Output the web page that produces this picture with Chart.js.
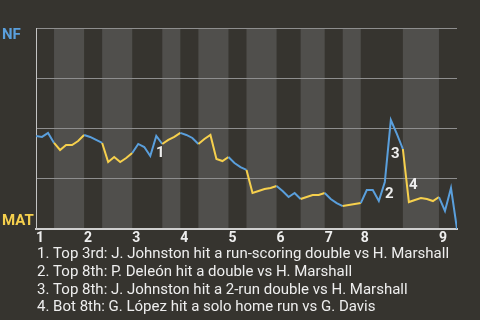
<!DOCTYPE html>
<html>
<head>
<meta charset="utf-8">
<script src="https://cdn.jsdelivr.net/npm/chart.js@4.4.1/dist/chart.umd.min.js"></script>
<style>
  html, body { margin: 0; padding: 0; background: #36342f; }
  #wrap { width: 480px; height: 320px; }
</style>
</head>
<body>
<div id="wrap"><canvas id="chart" width="480" height="320"></canvas></div>
<script>
// Teams
const awayTeam = 'NF';
const homeTeam = 'MAT';

// Innings: label and the event index where each inning starts
const inningLabels = ['1', '2', '3', '4', '5', '6', '7', '8', '9'];
const inningStarts = [0, 8, 16, 24, 32, 40, 48, 54, 67];

// Event index boundaries of each half inning (top 1st, bot 1st, top 2nd, ...)
const halfInningBounds = [0, 3, 8, 11, 16, 21, 24, 27, 32, 35, 40, 44, 48, 51, 54, 61, 67, 70];

// NF win probability (%) after each event
const winProbNF = [
  46.3, 45.8, 47.8, 42.8, 39.3, 41.8, 41.8, 43.8, 46.8, 45.8,
  44.3, 42.8, 33.3, 35.8, 33.3, 35.3, 37.8, 42.3, 40.8, 36.3,
  46.3, 42.3, 44.3, 45.8, 47.8, 46.8, 45.3, 42.3, 44.8, 46.8,
  34.8, 33.8, 35.8, 32.8, 30.8, 29.4, 17.9, 18.9, 19.9, 20.4,
  21.4, 18.9, 15.9, 17.9, 14.9, 15.9, 16.9, 16.9, 17.9, 14.9,
  12.9, 11.4, 11.9, 12.4, 12.9, 19.4, 19.4, 13.9, 23.4, 54.2,
  47.3, 39.8, 13.4, 14.4, 15.4, 14.9, 13.9, 15.9, 9.0, 20.4,
  0
];

// Key plays
const noteEvents = [20, 58, 59, 62];
const noteTexts = [
  '1. Top 3rd: J. Johnston hit a run-scoring double vs H. Marshall',
  '2. Top 8th: P. Deleón hit a double vs H. Marshall',
  '3. Top 8th: J. Johnston hit a 2-run double vs H. Marshall',
  '4. Bot 8th: G. López hit a solo home run vs G. Davis'
];

const BLUE = '#5a9fdc';
const YELLOW = '#f6d04d';
const BG = '#36342f';
const BAND = '#504f4c';
const FONT = 'Roboto, "Noto Sans", sans-serif';

// which half inning an event belongs to
function halfOf(idx) {
  for (let h = 0; h < halfInningBounds.length - 1; h++) {
    if (idx > halfInningBounds[h] && idx <= halfInningBounds[h + 1]) return h;
  }
  return 0;
}

// background + bottom-half bands, drawn under the grid
const bandsPlugin = {
  id: 'bands',
  beforeDraw(chart) {
    const ctx = chart.ctx;
    const area = chart.chartArea;
    const x = chart.scales.x;
    ctx.save();
    ctx.fillStyle = BG;
    ctx.fillRect(0, 0, chart.width, chart.height);
    ctx.fillStyle = BAND;
    for (let h = 1; h < halfInningBounds.length - 1; h += 2) {
      const x0 = x.getPixelForValue(halfInningBounds[h]);
      const x1 = x.getPixelForValue(halfInningBounds[h + 1]);
      ctx.fillRect(x0, area.top, x1 - x0, area.bottom - area.top);
    }
    ctx.restore();
  }
};

// team names, play numbers and the notes under the chart
const notesPlugin = {
  id: 'notes',
  afterDraw(chart) {
    const ctx = chart.ctx;
    const meta = chart.getDatasetMeta(0);
    ctx.save();

    ctx.font = 'bold 15px ' + FONT;
    ctx.textAlign = 'left';
    ctx.textBaseline = 'alphabetic';
    ctx.fillStyle = BLUE;
    ctx.fillText(awayTeam, 2, 39);
    ctx.fillStyle = YELLOW;
    ctx.fillText(homeTeam, 2, 225);

    // play numbers next to the point of each play
    const offsets = [[4, 21.5], [4.5, 16], [4.5, 38], [4.5, -13]];
    ctx.font = 'bold 15px ' + FONT;
    ctx.textAlign = 'center';
    ctx.fillStyle = '#eeeeee';
    noteEvents.forEach((e, k) => {
      const pt = meta.data[e];
      ctx.fillText(String(k + 1), pt.x + offsets[k][0], pt.y + offsets[k][1]);
    });

    ctx.font = '15px ' + FONT;
    ctx.textAlign = 'left';
    noteTexts.forEach((t, k) => {
      ctx.fillText(t, 37, 258 + k * 17.8);
    });
    ctx.restore();
  }
};

new Chart(document.getElementById('chart'), {
  type: 'line',
  data: {
    datasets: [{
      data: winProbNF.map((v, i) => ({ x: i, y: v })),
      borderWidth: 2,
      pointRadius: 0,
      tension: 0,
      fill: false,
      borderColor: BLUE,
      segment: {
        borderColor: c => (halfOf(c.p1DataIndex) % 2 === 0 ? BLUE : YELLOW)
      }
    }]
  },
  options: {
    responsive: false,
    animation: false,
    devicePixelRatio: 1,
    layout: { padding: { left: 36, right: 23, top: 28, bottom: 77 } },
    plugins: {
      legend: { display: false },
      tooltip: { enabled: false }
    },
    scales: {
      x: {
        type: 'linear',
        min: 0,
        max: 70,
        afterBuildTicks: s => { s.ticks = inningStarts.map(v => ({ value: v })); },
        afterFit: s => { s.height = 14; },
        ticks: {
          autoSkip: false,
          maxRotation: 0,
          align: 'start',
          padding: 1,
          color: '#eeeeee',
          font: { family: FONT, size: 14, weight: 'bold' },
          callback: (v, i) => inningLabels[i]
        },
        grid: { display: false, drawTicks: false },
        border: { display: true, color: '#cfcfcf', width: 2 }
      },
      y: {
        min: 0,
        max: 100,
        afterFit: s => { s.width = 0; },
        ticks: { display: false, stepSize: 25 },
        grid: {
          drawTicks: false,
          color: c => (c.tick.value === 0 ? 'rgba(0,0,0,0)' : '#8e8e8e'),
          lineWidth: 1
        },
        border: { display: true, color: '#c4c4c4', width: 1 }
      }
    }
  },
  plugins: [bandsPlugin, notesPlugin]
});
</script>
</body>
</html>
